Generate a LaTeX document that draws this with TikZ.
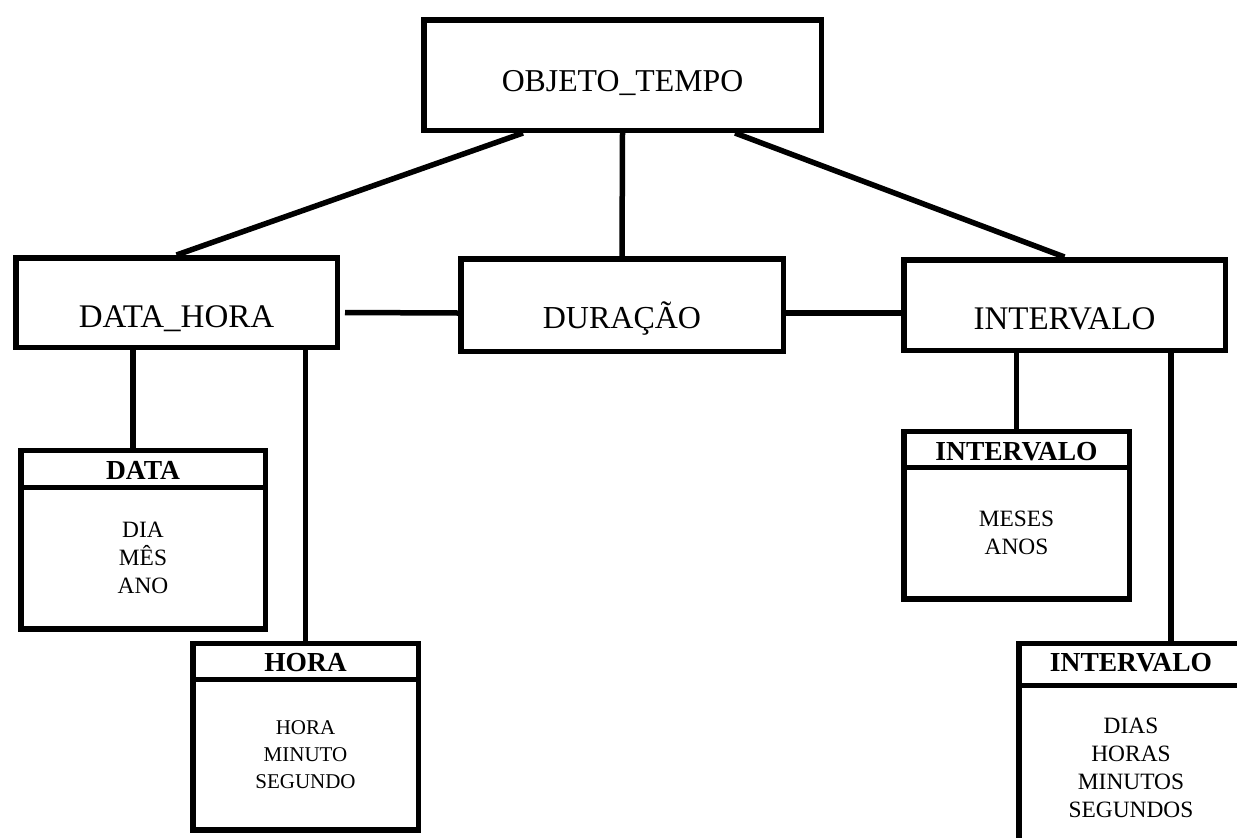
\documentclass[tikz,border=0pt]{standalone}
\usepackage{fontspec}
\setmainfont{Liberation Serif}
\usetikzlibrary{positioning}

\begin{document}
\begin{tikzpicture}[x=1pt,y=-1pt,line width=5.5pt,
  main node/.style={rectangle,draw,inner sep=0pt,minimum width=321.5pt,minimum height=90.5pt,text depth=0pt,font=\fontsize{33}{40}\selectfont},
  head node/.style={rectangle,draw,inner sep=0pt,outer sep=0pt,minimum width=225.5pt,minimum height=35.75pt,text height=20.4pt,text depth=0pt,font=\bfseries\fontsize{27.5}{33}\selectfont},
  body node/.style={rectangle,draw,inner sep=0pt,outer sep=0pt,minimum width=225.5pt,align=center,font=\fontsize{23.4}{28}\selectfont}]

  \clip (0,0) rectangle (1237,838);

  \node[main node,minimum width=397.5pt,minimum height=110.5pt,text height=32pt,font=\fontsize{31.8}{38}\selectfont] (objeto) at (622.5,75) {OBJETO\_TEMPO};
  \node[main node,minimum height=89.5pt,text height=49pt] (datahora) at (176.5,302.5) {DATA\_HORA};
  \node[main node,minimum width=322.5pt,minimum height=92.5pt,text height=46pt,font=\fontsize{32}{38}\selectfont] (duracao) at (622,305) {DURAÇÃO};
  \node[main node,text height=48pt] (intervalo) at (1064.5,305) {INTERVALO};

  \node[head node,minimum width=244.5pt,minimum height=36.75pt] (datah) at (143,469.1) {DATA};
  \node[body node,minimum width=244.5pt,minimum height=141.75pt,below=0pt of datah] (datab) {DIA\\MÊS\\ANO};

  \node[head node,text height=20.2pt] (horah) at (305.5,661.6) {HORA};
  \node[body node,minimum height=150.75pt,below=0pt of horah,font=\fontsize{21}{27}\selectfont] (horab) {HORA\\MINUTO\\SEGUNDO};

  \node[head node,text height=20.8pt] (mesesh) at (1016.5,449.6) {INTERVALO};
  \node[body node,minimum height=131.75pt,below=0pt of mesesh] (mesesb) {MESES\\ANOS};

  \node[head node,minimum width=224.5pt,minimum height=41.75pt,text height=14pt] (diash) at (1131,664.6) {INTERVALO};
  \node[body node,minimum width=224.5pt,minimum height=165pt,below=0pt of diash] (diasb) {DIAS\\HORAS\\MINUTOS\\SEGUNDOS};

  \coordinate (datajoin) at ([xshift=-43.5pt]datahora.south);
  \coordinate (diasjoin) at ([xshift=106.5pt]intervalo.south);

  \path
  ([xshift=-99.5pt]objeto.south) edge (datahora.north)
  (objeto.south) edge (duracao.north)
  ([xshift=112.5pt]objeto.south) edge (intervalo.north)
  ([xshift=5pt,yshift=-10pt]datahora.east) edge ([yshift=-8pt]duracao.west)
  ([yshift=-8pt]duracao.east) edge ([yshift=-8pt]intervalo.west)
  (datajoin) edge (datajoin |- datah.north)
  (horah.north |- datahora.south) edge (horah.north)
  (mesesh.north |- intervalo.south) edge (mesesh.north)
  (diasjoin) edge (diasjoin |- diash.north);
\end{tikzpicture}
\end{document}
